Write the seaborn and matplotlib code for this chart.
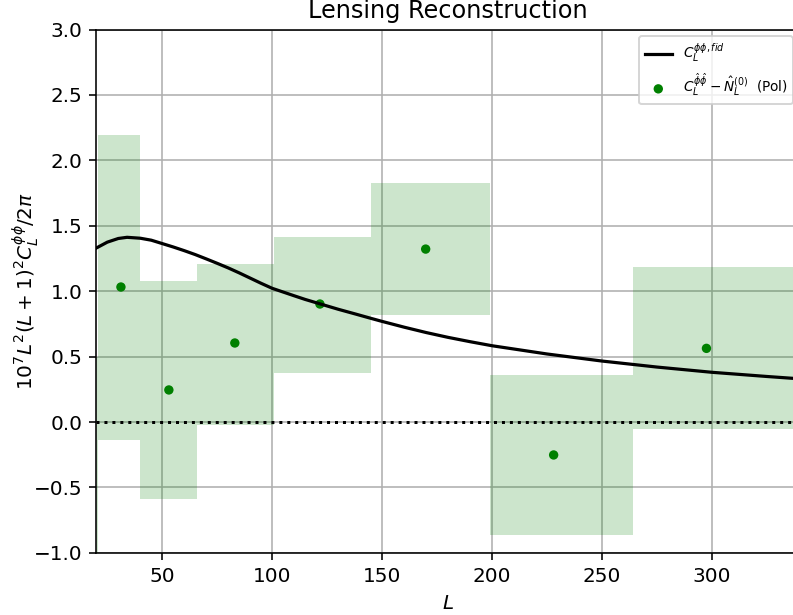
import numpy as np
import matplotlib
matplotlib.use("Agg")
import matplotlib.pyplot as plt
import seaborn as sns

# fiducial lensing curve
L_fid = [20, 25, 30, 34, 40, 45, 50, 55, 60, 65, 70, 75, 80, 85, 90, 95,
         100, 110, 115, 122, 130, 138, 145, 150, 160, 170, 180, 190, 200,
         225, 250, 275, 300, 325, 340]
C_fid = [1.33, 1.375, 1.403, 1.412, 1.405, 1.39, 1.364, 1.338, 1.31, 1.28,
         1.247, 1.213, 1.178, 1.14, 1.10, 1.06,
         1.022, 0.965, 0.937, 0.902, 0.862, 0.825, 0.792, 0.769, 0.725, 0.684,
         0.647, 0.614, 0.583,
         0.52, 0.466, 0.42, 0.380, 0.348, 0.33]

# binned reconstruction (Pol)
bin_lo = [2, 21, 40, 66, 101, 145, 199, 264]
bin_hi = [21, 40, 66, 101, 145, 199, 264, 339]
L_pts = [11, 31.2, 53, 83, 121.7, 169.8, 228, 297.5]
C_pts = [-1.5, 1.032, 0.245, 0.604, 0.902, 1.322, -0.252, 0.563]
err_lo = [-3.0, -0.138, -0.586, -0.02, 0.375, 0.820, -0.864, -0.051]
err_hi = [0.5, 2.194, 1.078, 1.208, 1.414, 1.825, 0.362, 1.183]

fig = plt.figure(figsize=(793 / 144, 615 / 144), dpi=144)
ax = fig.add_axes([96.3 / 793, 62.2 / 615, 703.6 / 793, 523.2 / 615])

lo = np.array(bin_lo)
hi = np.array(bin_hi)
bot = np.array(err_lo)
top = np.array(err_hi)
ax.bar(lo, top - bot, width=hi - lo, bottom=bot, align='edge',
       color='g', alpha=0.2, linewidth=0)

sns.lineplot(x=L_fid, y=C_fid, color='k', lw=1.6, ax=ax,
             label=r'$C_L^{\phi\phi,fid}$')
sns.scatterplot(x=L_pts, y=C_pts, color='g', s=22, edgecolor='none', ax=ax,
                label=r'$C_L^{\hat{\phi}\hat{\phi}} - \hat{N}_L^{(0)}$  (Pol)')
ax.axhline(0, color='k', ls=':', lw=1.5)

ax.set_xlim(20, 340)
ax.set_ylim(-1, 3)
ax.grid(True)
ax.set_axisbelow(True)
ax.set_title('Lensing Reconstruction', fontsize=12)
ax.set_xlabel('$L$')
ax.set_ylabel(r'$10^7 L^2(L+1)^2 C_L^{\phi\phi}/2\pi$')
ax.yaxis.set_label_coords(-0.079, 0.5)
ax.legend(loc='upper right', fontsize=6.8)

fig.savefig('out.png', dpi=144)
